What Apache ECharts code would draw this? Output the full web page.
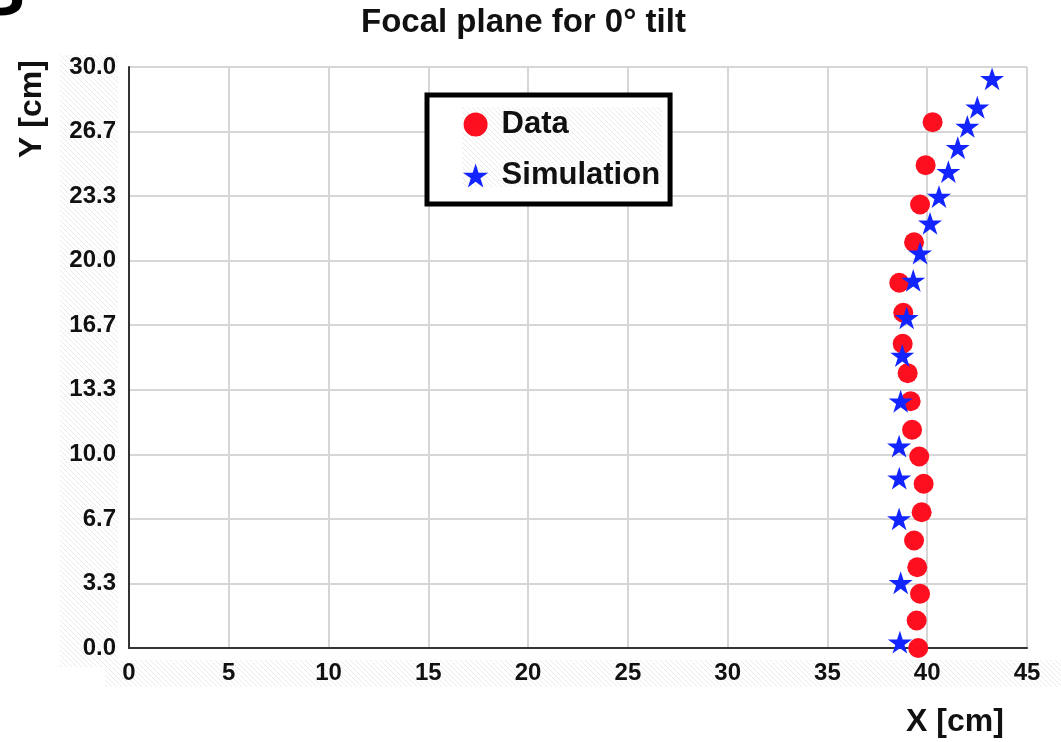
<!DOCTYPE html>
<html>
<head>
<meta charset="utf-8">
<title>Focal plane for 0° tilt</title>
<script src="https://cdn.jsdelivr.net/npm/echarts@6/dist/echarts.min.js"></script>
<style>
  html, body { margin: 0; padding: 0; background: #ffffff; }
  #chart { width: 1061px; height: 742px; }
</style>
</head>
<body>
<div id="chart"></div>
<script>
// Measured focal-plane positions (cm)
const dataX = [39.55, 39.47, 39.64, 39.50, 39.34, 39.72, 39.82, 39.60, 39.24, 39.17, 39.02, 38.77, 38.80, 38.60, 39.34, 39.64, 39.92, 40.27];
const dataY = [0.00, 1.42, 2.80, 4.17, 5.55, 7.01, 8.48, 9.89, 11.27, 12.74, 14.19, 15.71, 17.31, 18.86, 20.95, 22.90, 24.93, 27.15];

// Simulated focal-plane positions (cm)
const simX = [38.63, 38.67, 38.59, 38.60, 38.59, 38.67, 38.75, 38.97, 39.30, 39.64, 40.14, 40.59, 41.06, 41.53, 42.01, 42.51, 43.25];
const simY = [0.30, 3.37, 6.67, 8.77, 10.42, 12.74, 15.10, 17.05, 18.98, 20.39, 21.93, 23.31, 24.60, 25.83, 26.93, 27.92, 29.39];

// Y-axis tick labels, one per third of 10 cm
const yTickLabels = ['0.0', '3.3', '6.7', '10.0', '13.3', '16.7', '20.0', '23.3', '26.7', '30.0'];
const yStep = 10 / 3;

const seriesNames = ['Data', 'Simulation'];

const STAR = 'path://M50 0 L61.23 34.55 L97.55 34.55 L68.17 55.9 L79.39 90.45 L50 69.1 L20.61 90.45 L31.83 55.9 L2.45 34.55 L38.77 34.55 Z';
const FONT = '"Liberation Sans", Arial, Helvetica, sans-serif';

const zip = (xs, ys) => xs.map((x, i) => [x, ys[i]]);

// Light diagonal hatch used behind the label bands
function makeHatch() {
  const c = document.createElement('canvas');
  const n = 5;
  c.width = n; c.height = n;
  const g = c.getContext('2d');
  g.strokeStyle = '#ebebeb';
  g.lineWidth = 1;
  g.beginPath();
  g.moveTo(-1, -1); g.lineTo(n + 1, n + 1);
  g.moveTo(-1, n - 1); g.lineTo(1, n + 1);
  g.moveTo(n - 1, -1); g.lineTo(n + 1, 1);
  g.stroke();
  return { image: c, repeat: 'repeat' };
}
const hatch = makeHatch();

const chart = echarts.init(document.getElementById('chart'), null, { renderer: 'canvas' });

chart.setOption({
  backgroundColor: '#ffffff',
  animation: false,
  textStyle: { fontFamily: FONT },
  title: {
    text: 'Focal plane for 0° tilt',
    left: 361,
    top: 0,
    padding: [6, 0, 0, 0],
    textStyle: { fontFamily: FONT, fontSize: 33, fontWeight: 'bold', color: '#111111' }
  },
  grid: { left: 129, right: 34, top: 67, bottom: 94, containLabel: false },
  xAxis: {
    type: 'value',
    min: 0,
    max: 45,
    interval: 5,
    axisLine: { show: true, onZero: false, lineStyle: { color: '#333333', width: 2 } },
    axisTick: { show: false },
    splitLine: { show: true, lineStyle: { color: '#d6d6d6', width: 2 } },
    axisLabel: { margin: 13, fontFamily: FONT, fontSize: 24, fontWeight: 'bold', color: '#111111' }
  },
  yAxis: {
    type: 'value',
    min: 0,
    max: 30,
    interval: yStep,
    axisLine: { show: true, onZero: false, lineStyle: { color: '#333333', width: 2 } },
    axisTick: { show: false },
    splitLine: { show: true, lineStyle: { color: '#d6d6d6', width: 2 } },
    axisLabel: {
      margin: 13,
      fontFamily: FONT, fontSize: 24, fontWeight: 'bold', color: '#111111',
      formatter: v => yTickLabels[Math.round(v / yStep)]
    }
  },
  legend: {
    data: [
      { name: seriesNames[0], icon: 'circle' },
      { name: seriesNames[1], icon: STAR }
    ],
    orient: 'vertical',
    left: 427,
    top: 95,
    padding: [14, 10, 13, 36],
    itemWidth: 42,
    itemHeight: 24,
    itemGap: 20,
    backgroundColor: 'transparent',
    borderColor: '#000000',
    borderWidth: 5,
    textStyle: { fontFamily: FONT, fontSize: 31, fontWeight: 'bold', color: '#111111' }
  },
  series: [
    {
      name: seriesNames[0],
      type: 'scatter',
      symbol: 'circle',
      symbolSize: 20,
      itemStyle: { color: '#fd0f20', opacity: 1 },
      data: zip(dataX, dataY),
      z: 2
    },
    {
      name: seriesNames[1],
      type: 'scatter',
      symbol: STAR,
      symbolKeepAspect: true,
      symbolSize: 24,
      itemStyle: { color: '#1224ff', opacity: 1 },
      data: zip(simX, simY),
      z: 3
    }
  ],
  graphic: [
    // hatched bands behind the tick labels
    { type: 'rect', z: -1, silent: true, shape: { x: 60, y: 55, width: 58, height: 612 }, style: { fill: hatch } },
    { type: 'rect', z: -1, silent: true, shape: { x: 105, y: 660, width: 956, height: 27 }, style: { fill: hatch } },
    // legend panel: white ground with a hatched inner area
    { type: 'rect', z: 2, silent: true, shape: { x: 427, y: 95, width: 243, height: 108 }, style: { fill: '#ffffff' } },
    { type: 'rect', z: 3, silent: true, shape: { x: 462, y: 107, width: 200, height: 80 }, style: { fill: hatch } },
    {
      type: 'text',
      x: 32, y: 109,
      rotation: Math.PI / 2,
      style: { text: 'Y [cm]', fontFamily: FONT, fontSize: 32, fontWeight: 'bold', fill: '#111111', align: 'center', verticalAlign: 'middle' }
    },
    {
      type: 'text',
      x: 955, y: 722,
      style: { text: 'X [cm]', fontFamily: FONT, fontSize: 32, fontWeight: 'bold', fill: '#111111', align: 'center', verticalAlign: 'middle' }
    },
    {
      type: 'text',
      x: 25, y: 31,
      style: { text: 'S', fontFamily: FONT, fontSize: 72, fontWeight: 'bold', fill: '#000000', align: 'right', verticalAlign: 'bottom' }
    }
  ]
});
</script>
</body>
</html>
